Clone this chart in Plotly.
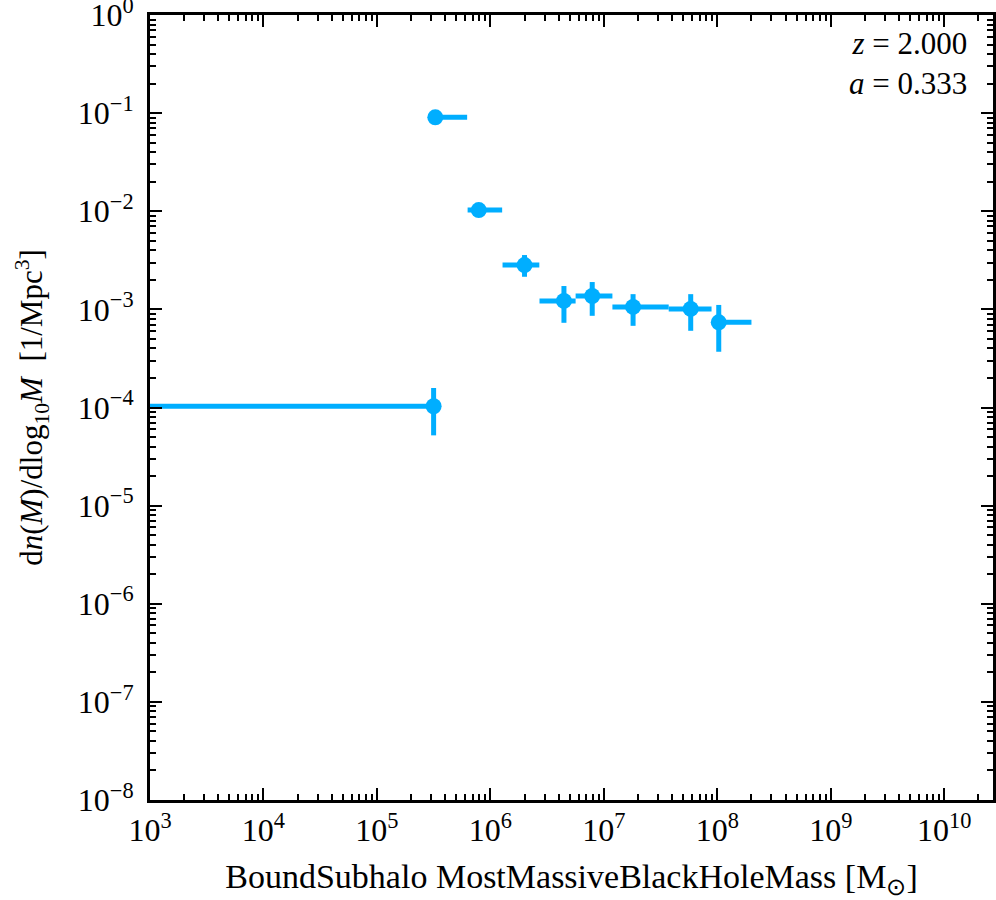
import numpy as np
import plotly.graph_objs as go

# bin centres / values
mass = [3.16e5, 3.27e5, 7.9e5, 2.0e6, 4.45e6, 7.9e6, 1.81e7, 5.83e7, 1.03e8]
bin_lo = [1.0e1, 3.27e5, 6.3e5, 1.28e6, 2.71e6, 5.64e6, 1.19e7, 3.73e7, 1.03e8]
bin_hi = [3.16e5, 6.24e5, 1.27e6, 2.70e6, 5.64e6, 1.19e7, 3.73e7, 8.9e7, 2.0e8]
dndlogm = [1.03e-4, 9.06e-2, 1.028e-2, 2.83e-3, 1.22e-3, 1.37e-3, 1.06e-3, 1.01e-3, 7.38e-4]
err_up = [1.58e-4, 9.06e-2, 1.028e-2, 3.58e-3, 1.73e-3, 1.90e-3, 1.43e-3, 1.43e-3, 1.11e-3]
err_dn = [5.2e-5, 9.06e-2, 1.028e-2, 2.15e-3, 7.3e-4, 8.6e-4, 6.8e-4, 6.05e-4, 3.70e-4]

x_exp = [3, 4, 5, 6, 7, 8, 9, 10]
y_exp = [0, -1, -2, -3, -4, -5, -6, -7, -8]

color = '#00aeff'
font = 'Liberation Serif'

x = np.array(mass)
y = np.array(dndlogm)

fig = go.Figure()
fig.add_trace(go.Scatter(
    x=x, y=y, mode='markers',
    marker=dict(color=color, size=16),
    error_x=dict(type='data', symmetric=False,
                 array=np.array(bin_hi) - x, arrayminus=x - np.array(bin_lo),
                 color=color, thickness=5, width=0),
    error_y=dict(type='data', symmetric=False,
                 array=np.array(err_up) - y, arrayminus=y - np.array(err_dn),
                 color=color, thickness=5, width=0),
    showlegend=False,
))


def minor_vals(lo, hi):
    return [m * 10.0 ** e for e in range(lo, hi + 1) for m in range(2, 10)]


axis_style = dict(
    type='log', showgrid=False, zeroline=False, automargin=False,
    showline=True, linecolor='black', linewidth=3, mirror='allticks',
    ticks='inside', ticklen=12, tickwidth=2, tickcolor='black',
    tickfont=dict(family=font, size=32, color='black'),
    ticklabeloverflow='allow',
    minor=dict(ticks='inside', ticklen=6, tickwidth=2, tickcolor='black', showgrid=False),
)

fig.update_xaxes(
    **axis_style,
    range=[3, 10.43],
    tickvals=[10.0 ** e for e in x_exp],
    ticktext=[f'10<sup>{e}</sup>' for e in x_exp],
    title=dict(text='BoundSubhalo MostMassiveBlackHoleMass [M<sub>⊙</sub>]',
               font=dict(family=font, size=34, color='black'), standoff=17),
)
fig.update_xaxes(minor_tickvals=minor_vals(3, 10))

fig.update_yaxes(
    **axis_style,
    range=[-8.0005, 0.0005],
    tickvals=[10.0 ** e for e in y_exp],
    ticktext=[f'10<sup>{e if e >= 0 else "−" + str(-e)}</sup>' for e in y_exp],
    ticklabelstandoff=7,
    title=dict(text='d<i>n</i>(<i>M</i>)/dlog<sub>10</sub><i>M</i>  [1/Mpc<sup>3</sup>]',
               font=dict(family=font, size=31, color='black'), standoff=26),
)
fig.update_yaxes(minor_tickvals=minor_vals(-8, -1))

fig.add_annotation(xref='paper', yref='paper', x=0.972, y=0.988,
                   xanchor='right', yanchor='top', showarrow=False, align='right',
                   text='<i>z</i> = 2.000<br><i>a</i> = 0.333',
                   font=dict(family=font, size=31, color='black'))

fig.update_layout(
    width=996, height=900,
    margin=dict(l=150, r=3, t=15, b=100, autoexpand=False),
    plot_bgcolor='white', paper_bgcolor='white',
    font=dict(family=font, color='black'),
)

# drop the default body margin so the figure sits at the page corner
fig.write_html('out.html', config={'displayModeBar': False},
               post_script="document.body.style.margin='0';document.body.style.overflow='hidden';")
